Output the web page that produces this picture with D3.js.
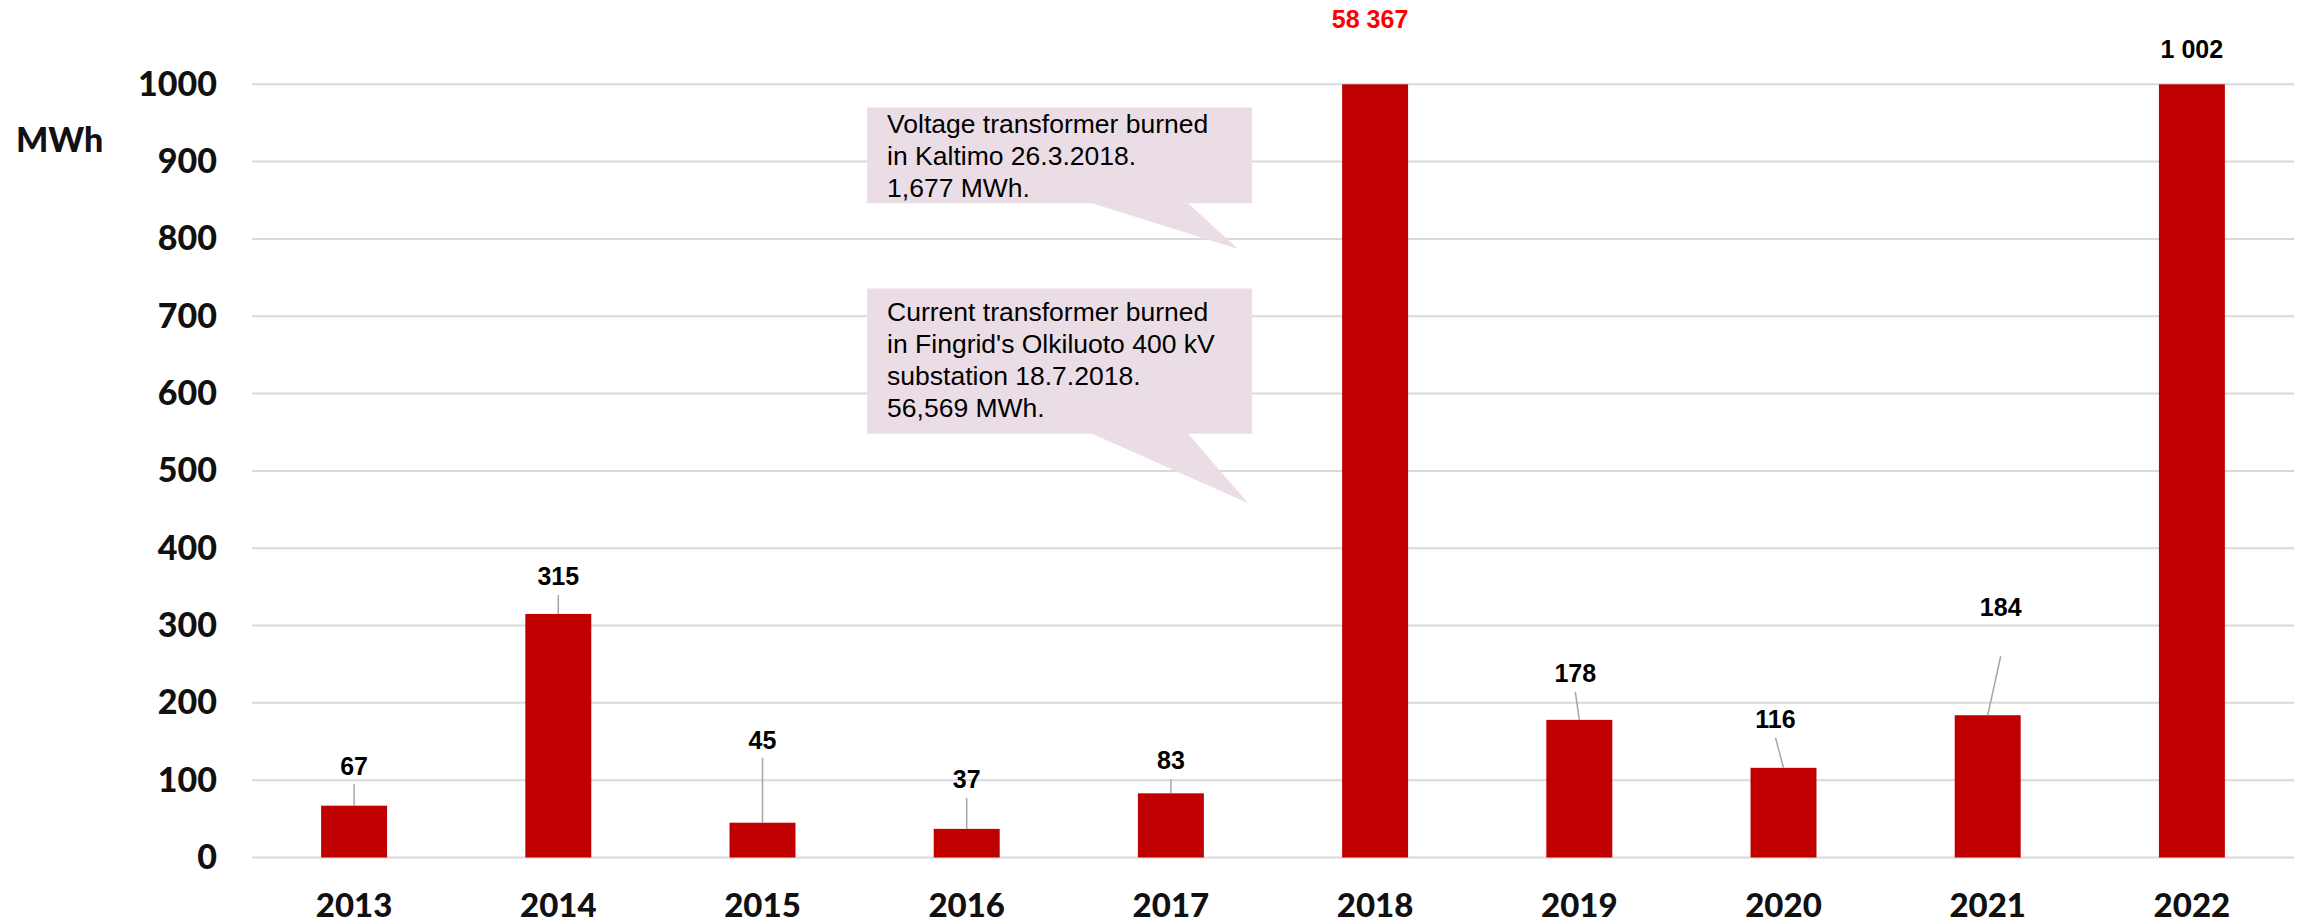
<!DOCTYPE html>
<html>
<head>
<meta charset="utf-8">
<script src="https://cdn.jsdelivr.net/npm/d3@7"></script>
<style>
  body { margin: 0; background: #fff; }
  svg { display: block; }
</style>
</head>
<body>
<div id="chart"></div>
<script>
// data
var years = ["2013", "2014", "2015", "2016", "2017", "2018", "2019", "2020", "2021", "2022"];
var energy = [67, 315, 45, 37, 83, 58367, 178, 116, 184, 1002];
var yTicks = [0, 100, 200, 300, 400, 500, 600, 700, 800, 900, 1000];
var unitLabel = "MWh";
var highlightYear = "2018";
var notes = [
  ["Voltage transformer burned", "in Kaltimo 26.3.2018.", "1,677 MWh."],
  ["Current transformer burned", "in Fingrid's Olkiluoto 400 kV", "substation 18.7.2018.", "56,569 MWh."]
];

// label placement (dx from bar centre, lift above bar top, gap below label for the leader)
var labelLayout = [
  { dx: 0, lift: 31, gap: 9 },
  { dx: 0, lift: 29, gap: 10 },
  { dx: 0, lift: 74, gap: 9 },
  { dx: 0, lift: 41, gap: 10 },
  { dx: 0, lift: 24, gap: 10 },
  { dx: -5, lift: 56, gap: 0 },
  { dx: -4, lift: 38, gap: 10 },
  { dx: -8, lift: 40, gap: 10 },
  { dx: 13, lift: 99, gap: 40 },
  { dx: 0, lift: 26, gap: 0 }
];

var W = 2307, H = 923;
var axisFont = "Lato, 'Open Sans', sans-serif";
var labelFont = "'Liberation Sans', Arial, sans-serif";

var svg = d3.select("#chart").append("svg")
  .attr("width", W).attr("height", H);

var x = d3.scaleBand()
  .domain(years)
  .range([252, 2294])
  .paddingInner(0.677)
  .paddingOuter(0.3385);

var y = d3.scaleLinear()
  .domain([0, 1000])
  .range([857.5, 84.3]);

var fmt = function(v) { return d3.format(",")(v).replace(/,/g, " "); };
var cx = function(d) { return x(d) + x.bandwidth() / 2; };

// gridlines
svg.append("g").selectAll("line")
  .data(yTicks)
  .enter().append("line")
  .attr("x1", 252).attr("x2", 2294)
  .attr("y1", function(d) { return y(d); })
  .attr("y2", function(d) { return y(d); })
  .style("stroke", "#d9d9d9")
  .style("stroke-width", 2);

// y axis labels
var yAxis = d3.axisLeft(y).tickValues(yTicks).tickFormat(d3.format("d")).tickSize(0).tickPadding(0);
var yg = svg.append("g").attr("transform", "translate(217,0)").call(yAxis);
yg.select(".domain").remove();
yg.selectAll("text")
  .style("font-family", axisFont)
  .style("font-weight", 900)
  .style("font-size", "34px")
  .style("fill", "#111");

svg.append("text")
  .attr("x", 16).attr("y", 152)
  .style("font-family", axisFont)
  .style("font-weight", 900)
  .style("font-size", "34px")
  .style("fill", "#111")
  .text(unitLabel);

// x axis labels
var xAxis = d3.axisBottom(x).tickSize(0).tickPadding(0);
var xg = svg.append("g").attr("transform", "translate(0,894)").call(xAxis);
xg.select(".domain").remove();
xg.selectAll("text")
  .attr("dy", "0.71em")
  .style("font-family", axisFont)
  .style("font-weight", 900)
  .style("font-size", "33px")
  .style("fill", "#111");

// bars (clipped at the top of the axis)
var rows = years.map(function(yr, i) { return { year: yr, value: energy[i], lay: labelLayout[i] }; });
var barTop = function(d) { return y(Math.min(d.value, 1000)); };

svg.append("g").selectAll("rect")
  .data(rows)
  .enter().append("rect")
  .attr("x", function(d) { return x(d.year); })
  .attr("width", x.bandwidth())
  .attr("y", barTop)
  .attr("height", function(d) { return y(0) - barTop(d); })
  .style("fill", "#c00000");

// leader lines
svg.append("g").selectAll("line")
  .data(rows.filter(function(d) { return d.lay.gap > 0; }))
  .enter().append("line")
  .attr("x1", function(d) { return cx(d.year) + d.lay.dx; })
  .attr("y1", function(d) { return barTop(d) - d.lay.lift + d.lay.gap; })
  .attr("x2", function(d) { return cx(d.year); })
  .attr("y2", barTop)
  .style("stroke", "#a6a6a6")
  .style("stroke-width", 1.5);

// value labels
svg.append("g").selectAll("text")
  .data(rows)
  .enter().append("text")
  .attr("x", function(d) { return cx(d.year) + d.lay.dx; })
  .attr("y", function(d) { return barTop(d) - d.lay.lift; })
  .attr("text-anchor", "middle")
  .style("font-family", labelFont)
  .style("font-weight", "bold")
  .style("font-size", "25px")
  .style("fill", function(d) { return d.year === highlightYear ? "#ff0000" : "#000"; })
  .text(function(d) { return fmt(d.value); });

// callouts pointing at the 2018 bar
var calloutLayout = [
  { top: 970, bottom: 846, tipV: 787, tipDx: -137, first: 26 },
  { top: 736, bottom: 548, tipV: 458, tipDx: -127, first: 33 }
];
var c18 = cx(highlightYear);
var boxL = c18 - 508, boxR = c18 - 123, baseL = c18 - 283, baseR = c18 - 187;

var cg = svg.append("g").selectAll("g")
  .data(notes)
  .enter().append("g");

cg.append("path")
  .attr("d", function(d, i) {
    var c = calloutLayout[i];
    var t = y(c.top), b = y(c.bottom);
    return "M" + boxL + "," + t + "H" + boxR + "V" + b + "H" + baseR +
      "L" + (c18 + c.tipDx) + "," + y(c.tipV) + "L" + baseL + "," + b +
      "H" + boxL + "Z";
  })
  .style("fill", "#ebdde6");

cg.each(function(lines, i) {
  var c = calloutLayout[i];
  d3.select(this).selectAll("text")
    .data(lines)
    .enter().append("text")
    .attr("x", boxL + 20)
    .attr("y", function(d, j) { return y(c.top) + c.first + j * 31.7; })
    .style("font-family", labelFont)
    .style("font-size", "26.5px")
    .style("fill", "#000")
    .text(function(d) { return d; });
});
</script>
</body>
</html>
